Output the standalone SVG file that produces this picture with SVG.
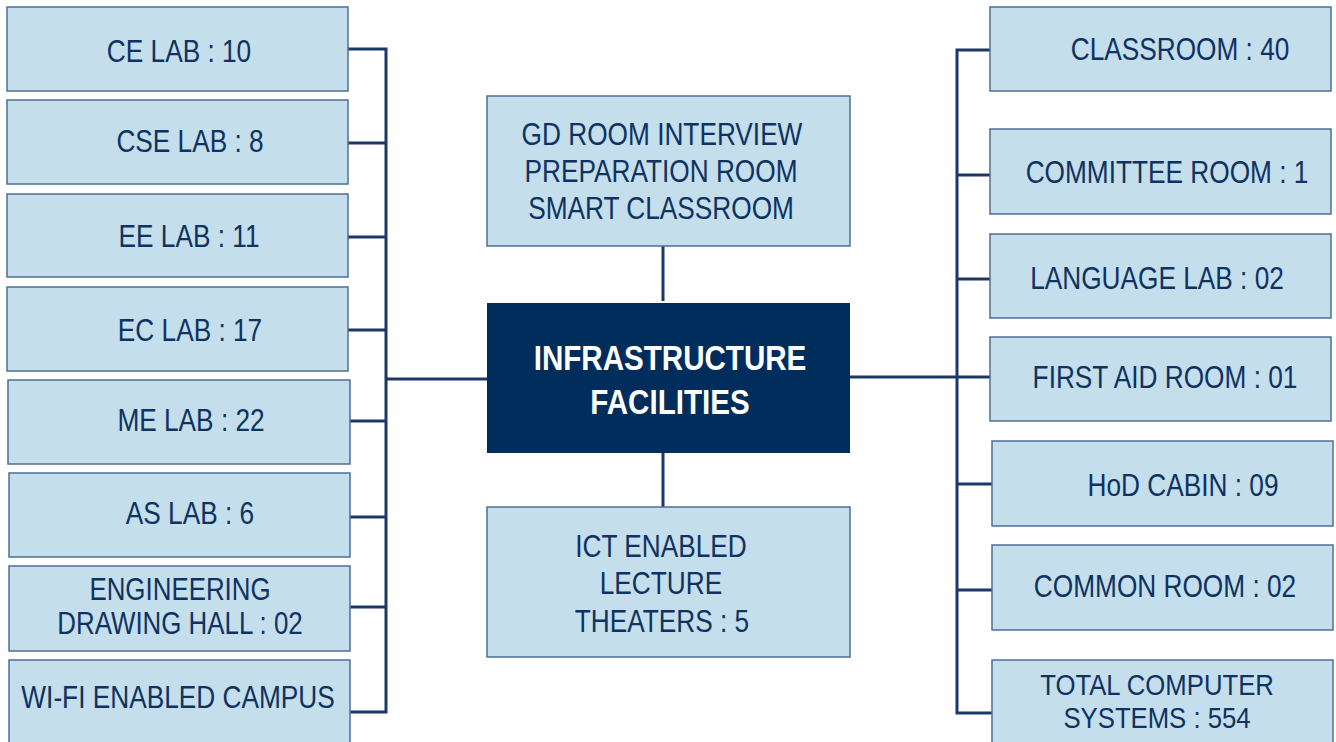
<svg xmlns="http://www.w3.org/2000/svg" width="1336" height="742" viewBox="0 0 1336 742">
<style>
.box{fill:#c5deeb;stroke:#4d6f96;stroke-width:1.5}
.t{font-family:"Liberation Sans",Arial,sans-serif;font-size:32px;fill:#0e3261;text-anchor:middle}
.s{font-size:31px}
.s2{font-size:30px}
.c{fill:#002d5c}
.ct{font-family:"Liberation Sans",Arial,sans-serif;font-size:35px;font-weight:bold;fill:#ffffff;text-anchor:middle}
.ln{fill:none;stroke:#1b3866;stroke-width:3}
</style>
<rect width="1336" height="742" fill="#ffffff"/>
<g id="connectors">
<path class="ln" d="M348,49H386V712H350M348,143H386M348,237H386M348,330H386M350,421H386M350,517H386M350,607H386M386,379H487"/>
<path class="ln" d="M990,50H957V713H992M990,175H957M990,279H957M850,377H990M992,484H957M992,590H957"/>
<path class="ln" d="M663,246V301M663,453V507"/>
</g>
<g id="ce"><rect class="box" x="7" y="7" width="341" height="84"/><text class="t" transform="translate(179 62) scale(0.82 1)">CE LAB : 10</text></g>
<g id="cse"><rect class="box" x="7" y="100" width="341" height="84"/><text class="t" transform="translate(190 152) scale(0.82 1)">CSE LAB : 8</text></g>
<g id="ee"><rect class="box" x="7" y="194" width="341" height="83"/><text class="t" transform="translate(189 247) scale(0.82 1)">EE LAB : 11</text></g>
<g id="ec"><rect class="box" x="7" y="287" width="341" height="84"/><text class="t" transform="translate(190 341) scale(0.82 1)">EC LAB : 17</text></g>
<g id="me"><rect class="box" x="8" y="380" width="342" height="84"/><text class="t" transform="translate(191 431) scale(0.82 1)">ME LAB : 22</text></g>
<g id="as"><rect class="box" x="9" y="473" width="341" height="84"/><text class="t" transform="translate(190 524) scale(0.82 1)">AS LAB : 6</text></g>
<g id="edh"><rect class="box" x="9" y="566" width="341" height="85"/><text class="t s" transform="translate(180 600) scale(0.835 1)">ENGINEERING</text><text class="t s" transform="translate(180 634) scale(0.835 1)">DRAWING HALL : 02</text></g>
<g id="wifi"><rect class="box" x="9" y="660" width="341" height="90"/><text class="t" transform="translate(178 708) scale(0.82 1)">WI-FI ENABLED CAMPUS</text></g>
<g id="gd"><rect class="box" x="487" y="96" width="363" height="150"/><text class="t" transform="translate(662 145) scale(0.82 1)">GD ROOM INTERVIEW</text><text class="t" transform="translate(661 182) scale(0.82 1)">PREPARATION ROOM</text><text class="t" transform="translate(661 219) scale(0.82 1)">SMART CLASSROOM</text></g>
<g id="center"><rect class="c" x="487" y="303" width="363" height="150"/><text class="ct" transform="translate(670 370) scale(0.845 1)">INFRASTRUCTURE</text><text class="ct" transform="translate(670 414) scale(0.845 1)">FACILITIES</text></g>
<g id="ict"><rect class="box" x="487" y="507" width="363" height="150"/><text class="t" transform="translate(661 557) scale(0.82 1)">ICT ENABLED</text><text class="t" transform="translate(661 594) scale(0.82 1)">LECTURE</text><text class="t" transform="translate(662 632) scale(0.82 1)">THEATERS : 5</text></g>
<g id="classroom"><rect class="box" x="990" y="7" width="341" height="84"/><text class="t" transform="translate(1180 60) scale(0.82 1)">CLASSROOM : 40</text></g>
<g id="committee"><rect class="box" x="990" y="129" width="341" height="85"/><text class="t" transform="translate(1167 183) scale(0.82 1)">COMMITTEE ROOM : 1</text></g>
<g id="language"><rect class="box" x="990" y="234" width="341" height="84"/><text class="t" transform="translate(1157 289) scale(0.82 1)">LANGUAGE LAB : 02</text></g>
<g id="firstaid"><rect class="box" x="990" y="337" width="341" height="84"/><text class="t" transform="translate(1165 388) scale(0.82 1)">FIRST AID ROOM : 01</text></g>
<g id="hod"><rect class="box" x="992" y="441" width="341" height="85"/><text class="t" transform="translate(1183 496) scale(0.82 1)">HoD CABIN : 09</text></g>
<g id="common"><rect class="box" x="992" y="545" width="341" height="85"/><text class="t" transform="translate(1165 597) scale(0.82 1)">COMMON ROOM : 02</text></g>
<g id="computers"><rect class="box" x="992" y="660" width="341" height="90"/><text class="t s2" transform="translate(1157 695) scale(0.857 1)">TOTAL COMPUTER</text><text class="t s2" transform="translate(1157 728) scale(0.857 1)">SYSTEMS : 554</text></g>
</svg>
